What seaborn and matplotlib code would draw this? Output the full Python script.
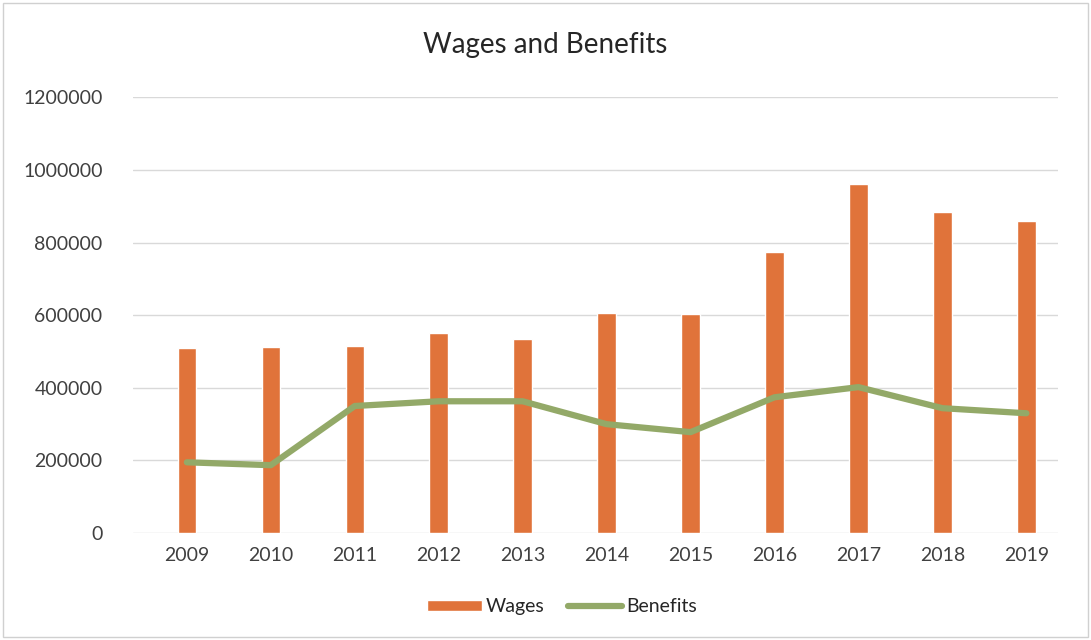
import matplotlib
matplotlib.use("Agg")
import matplotlib.pyplot as plt
import seaborn as sns
import pandas as pd

# valores
anos = ["2009", "2010", "2011", "2012", "2013", "2014", "2015", "2016", "2017", "2018", "2019"]
wages = [509000, 512000, 515000, 550000, 534000, 605000, 603000, 773000, 960000, 883000, 859000]
benefits = [195000, 187000, 350000, 363000, 363000, 300000, 278000, 374000, 402000, 344000, 330000]

df = pd.DataFrame({"ano": anos, "Wages": wages, "Benefits": benefits, "pos": range(len(anos))})

sns.set_theme(style="white")
plt.rcParams["font.family"] = ["Lato", "DejaVu Sans"]

fig = plt.figure(figsize=(10.91, 6.4), dpi=100)
ax = fig.add_axes([0.122, 0.167, 0.848, 0.681])

sns.barplot(data=df, x="ano", y="Wages", color="#E0733A", width=0.22, saturation=1,
            label="Wages", ax=ax, zorder=2)
sns.lineplot(data=df, x="pos", y="Benefits", color="#93A968", linewidth=4.5,
             label="Benefits", ax=ax, zorder=3)

ax.set_ylim(0, 1200000)
ax.set_xlim(-0.64, 10.38)
ax.set_yticks(range(0, 1200001, 200000))
ax.set_yticklabels([str(v) for v in range(0, 1200001, 200000)])
ax.set_xticks(range(len(anos)))
ax.set_xticklabels(anos)
ax.grid(axis="y", color="#D9D9D9", linewidth=1)
ax.set_axisbelow(True)
for s in ax.spines.values():
    s.set_visible(False)
ax.tick_params(axis="y", labelsize=14, colors="#404040", length=0, pad=22)
ax.tick_params(axis="x", labelsize=14, colors="#404040", length=0, pad=10)
ax.set_xlabel("")
ax.set_ylabel("")

fig.suptitle("Wages and Benefits", y=0.95, fontsize=20, color="#262626")

# legenda: Wages primeiro
h, l = ax.get_legend_handles_labels()
ordem = [l.index("Wages"), l.index("Benefits")]
ax.legend([h[i] for i in ordem], [l[i] for i in ordem], loc="center",
          bbox_to_anchor=(0.515, 0.052), bbox_transform=fig.transFigure, ncol=2,
          frameon=False, fontsize=14, handlelength=2.8, handleheight=0.5,
          columnspacing=1.2, handletextpad=0.2)

# moldura do gráfico
fig.patches.append(plt.Rectangle((0.003, 0.005), 0.994, 0.99, transform=fig.transFigure,
                                 fill=False, edgecolor="#D0D0D0", linewidth=1))

fig.savefig("out.png", dpi=100)
